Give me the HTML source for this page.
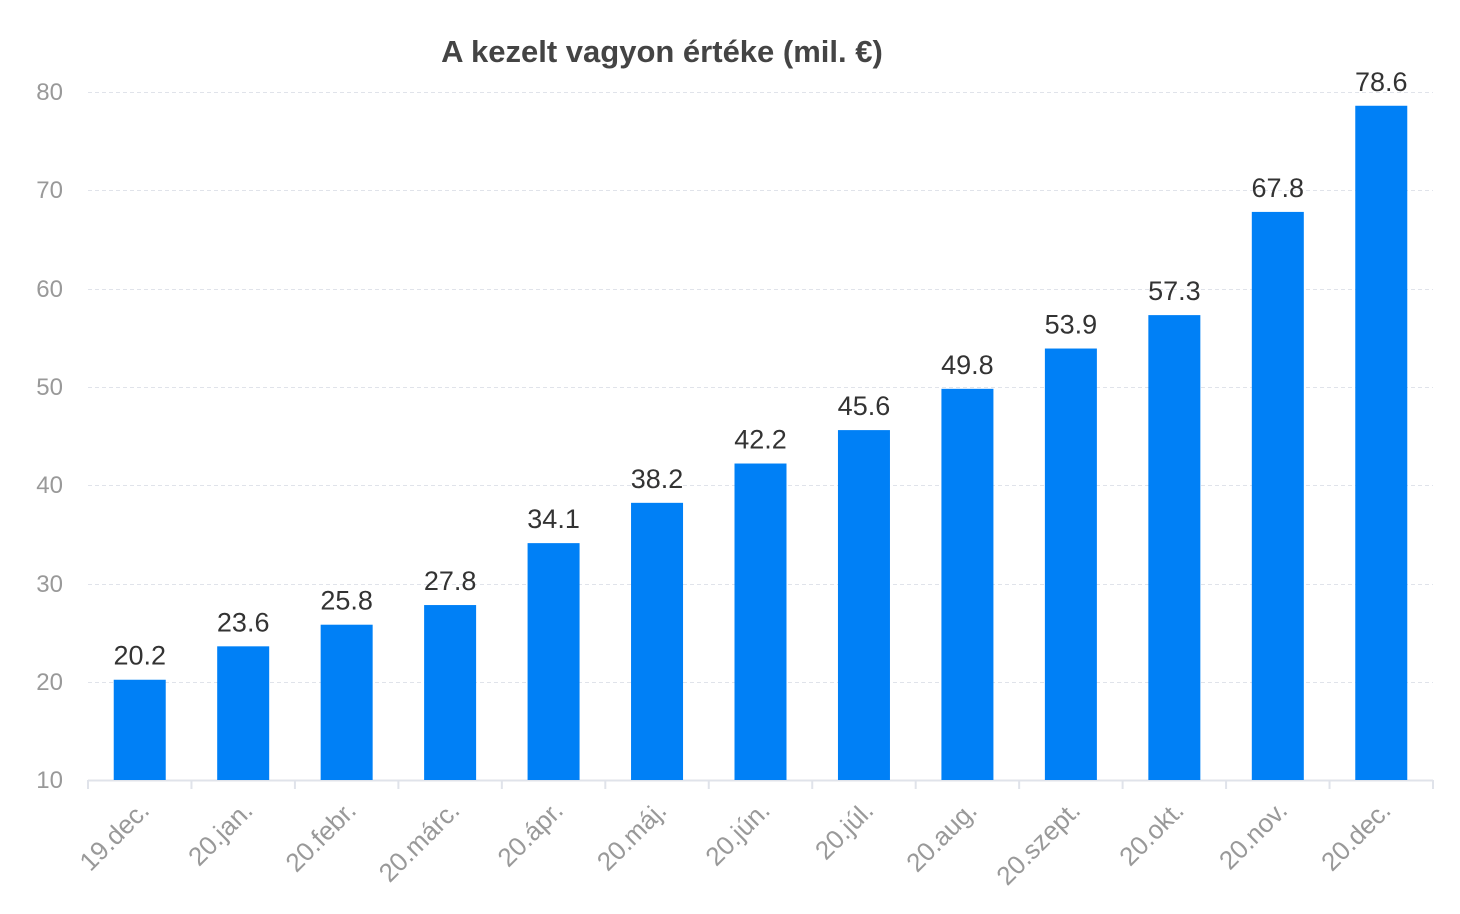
<!DOCTYPE html>
<html><head><meta charset="utf-8"><style>
html,body{margin:0;padding:0;background:#fff;}
svg{display:block;font-family:"Liberation Sans",Arial,sans-serif;}
</style></head><body>
<svg width="1460" height="914" viewBox="0 0 1460 914" xmlns="http://www.w3.org/2000/svg">
<text x="662" y="62" text-anchor="middle" font-size="31" font-weight="bold" fill="#444">A kezelt vagyon értéke (mil. €)</text>
<g stroke="#e0e3ea" stroke-width="1" stroke-dasharray="4,3">
<line x1="88" x2="1433" y1="92.5" y2="92.5"/>
<line x1="88" x2="1433" y1="190.5" y2="190.5"/>
<line x1="88" x2="1433" y1="289.5" y2="289.5"/>
<line x1="88" x2="1433" y1="387.5" y2="387.5"/>
<line x1="88" x2="1433" y1="485.5" y2="485.5"/>
<line x1="88" x2="1433" y1="584.5" y2="584.5"/>
<line x1="88" x2="1433" y1="682.5" y2="682.5"/>
</g>
<g font-size="24" fill="#999" text-anchor="end">
<text x="63" y="100">80</text><text x="63" y="198">70</text><text x="63" y="297">60</text><text x="63" y="395">50</text><text x="63" y="493">40</text><text x="63" y="592">30</text><text x="63" y="690">20</text><text x="63" y="788">10</text>
</g>
<line x1="88" x2="1433" y1="780.5" y2="780.5" stroke="#e0e3ea" stroke-width="2"/>
<g id="bars" fill="#0080f6"></g>
<g id="ticks" stroke="#e0e3ea" stroke-width="2"></g>
<g id="labels" font-size="27" fill="#333" text-anchor="middle"></g>
<g id="xl" font-size="26" fill="#999" text-anchor="end"></g>
<script>
var v=[20.2,23.6,25.8,27.8,34.1,38.2,42.2,45.6,49.8,53.9,57.3,67.8,78.6];
var n=["19.dec.","20.jan.","20.febr.","20.márc.","20.ápr.","20.máj.","20.jún.","20.júl.","20.aug.","20.szept.","20.okt.","20.nov.","20.dec."];
var ns="http://www.w3.org/2000/svg",w=1345/13;
function el(t,a,p,txt){var e=document.createElementNS(ns,t);for(var k in a)e.setAttribute(k,a[k]);if(txt)e.textContent=txt;document.getElementById(p).appendChild(e);}
for(var i=0;i<13;i++){var cx=88+w*(i+0.5),y=780-(v[i]-10)*688/70;
el("rect",{x:cx-26,y:y,width:52,height:780-y},"bars");
el("text",{x:cx,y:y-15},"labels",v[i].toFixed(1));
el("text",{x:0,y:0,transform:"translate("+(cx+11)+",812) rotate(-45)"},"xl",n[i]);}
for(var i=0;i<=13;i++){var x=88+w*i;el("line",{x1:x,x2:x,y1:780,y2:789},"ticks");}
</script>
</svg>
</body></html>
